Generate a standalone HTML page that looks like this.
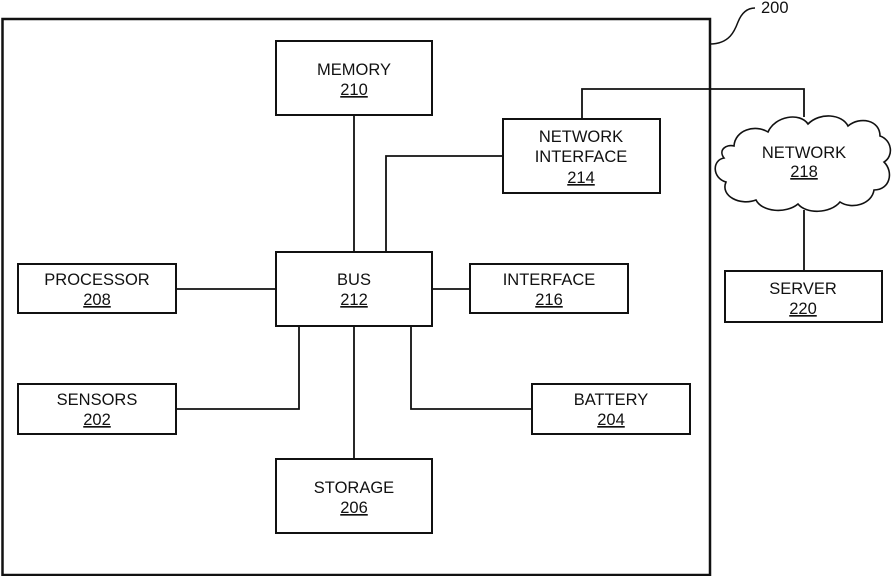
<!DOCTYPE html>
<html><head><meta charset="utf-8"><style>
html,body{margin:0;padding:0;background:#fff;}
svg{display:block;}
text{font-family:"Liberation Sans",Arial,sans-serif;font-size:16.5px;fill:#111;text-anchor:middle;}
</style></head><body>
<svg width="892" height="576" viewBox="0 0 892 576" xmlns="http://www.w3.org/2000/svg">
<g fill="none" stroke="#111">
<rect x="2.5" y="19" width="707.5" height="556" stroke-width="2.5"/>
<path d="M710 44 C730 44 735 30 738 22 C742 12 748 8 755 8" stroke-width="1.5"/>
<g stroke-width="2">
<rect x="276" y="41" width="156" height="74"/>
<rect x="503" y="119" width="157" height="74"/>
<rect x="18" y="264" width="158" height="49"/>
<rect x="276" y="252" width="156" height="74"/>
<rect x="470" y="264" width="158" height="49"/>
<rect x="18" y="384" width="158" height="50"/>
<rect x="532" y="384" width="158" height="50"/>
<rect x="276" y="459" width="156" height="74"/>
<rect x="725" y="271" width="157" height="51"/>
</g>
<g stroke-width="1.8">
<path d="M354 115 V252"/>
<path d="M386 252 V156 H503"/>
<path d="M582 119 V89 H804 V117"/>
<path d="M176 289 H276"/>
<path d="M432 289 H470"/>
<path d="M299 326 V409 H176"/>
<path d="M411 326 V409 H532"/>
<path d="M354 326 V459"/>
<path d="M804 210 V271"/>
</g>
<path stroke-width="1.6" fill="#fff" d="M734 146 C735 130 755 124 768 132 C775 116 800 112 808 124 C820 112 842 114 848 126 C860 116 880 120 880 136 C892 140 894 156 884 162 C894 172 890 190 874 190 C872 204 852 210 840 202 C830 214 806 214 798 204 C786 214 762 212 756 200 C740 206 720 196 726 182 C712 178 712 160 724 158 C718 150 726 144 734 146 Z"/>
</g>
<text x="761" y="13" style="text-anchor:start">200</text>
<text x="354" y="75">MEMORY</text><text x="354" y="95" text-decoration="underline">210</text>
<text x="581" y="142">NETWORK</text><text x="581" y="162">INTERFACE</text><text x="581" y="183" text-decoration="underline">214</text>
<text x="804" y="158">NETWORK</text><text x="804" y="177" text-decoration="underline">218</text>
<text x="97" y="285">PROCESSOR</text><text x="97" y="305" text-decoration="underline">208</text>
<text x="354" y="285">BUS</text><text x="354" y="305" text-decoration="underline">212</text>
<text x="549" y="285">INTERFACE</text><text x="549" y="305" text-decoration="underline">216</text>
<text x="803" y="294">SERVER</text><text x="803" y="314" text-decoration="underline">220</text>
<text x="97" y="405">SENSORS</text><text x="97" y="425" text-decoration="underline">202</text>
<text x="611" y="405">BATTERY</text><text x="611" y="425" text-decoration="underline">204</text>
<text x="354" y="493">STORAGE</text><text x="354" y="513" text-decoration="underline">206</text>
</svg>
</body></html>
